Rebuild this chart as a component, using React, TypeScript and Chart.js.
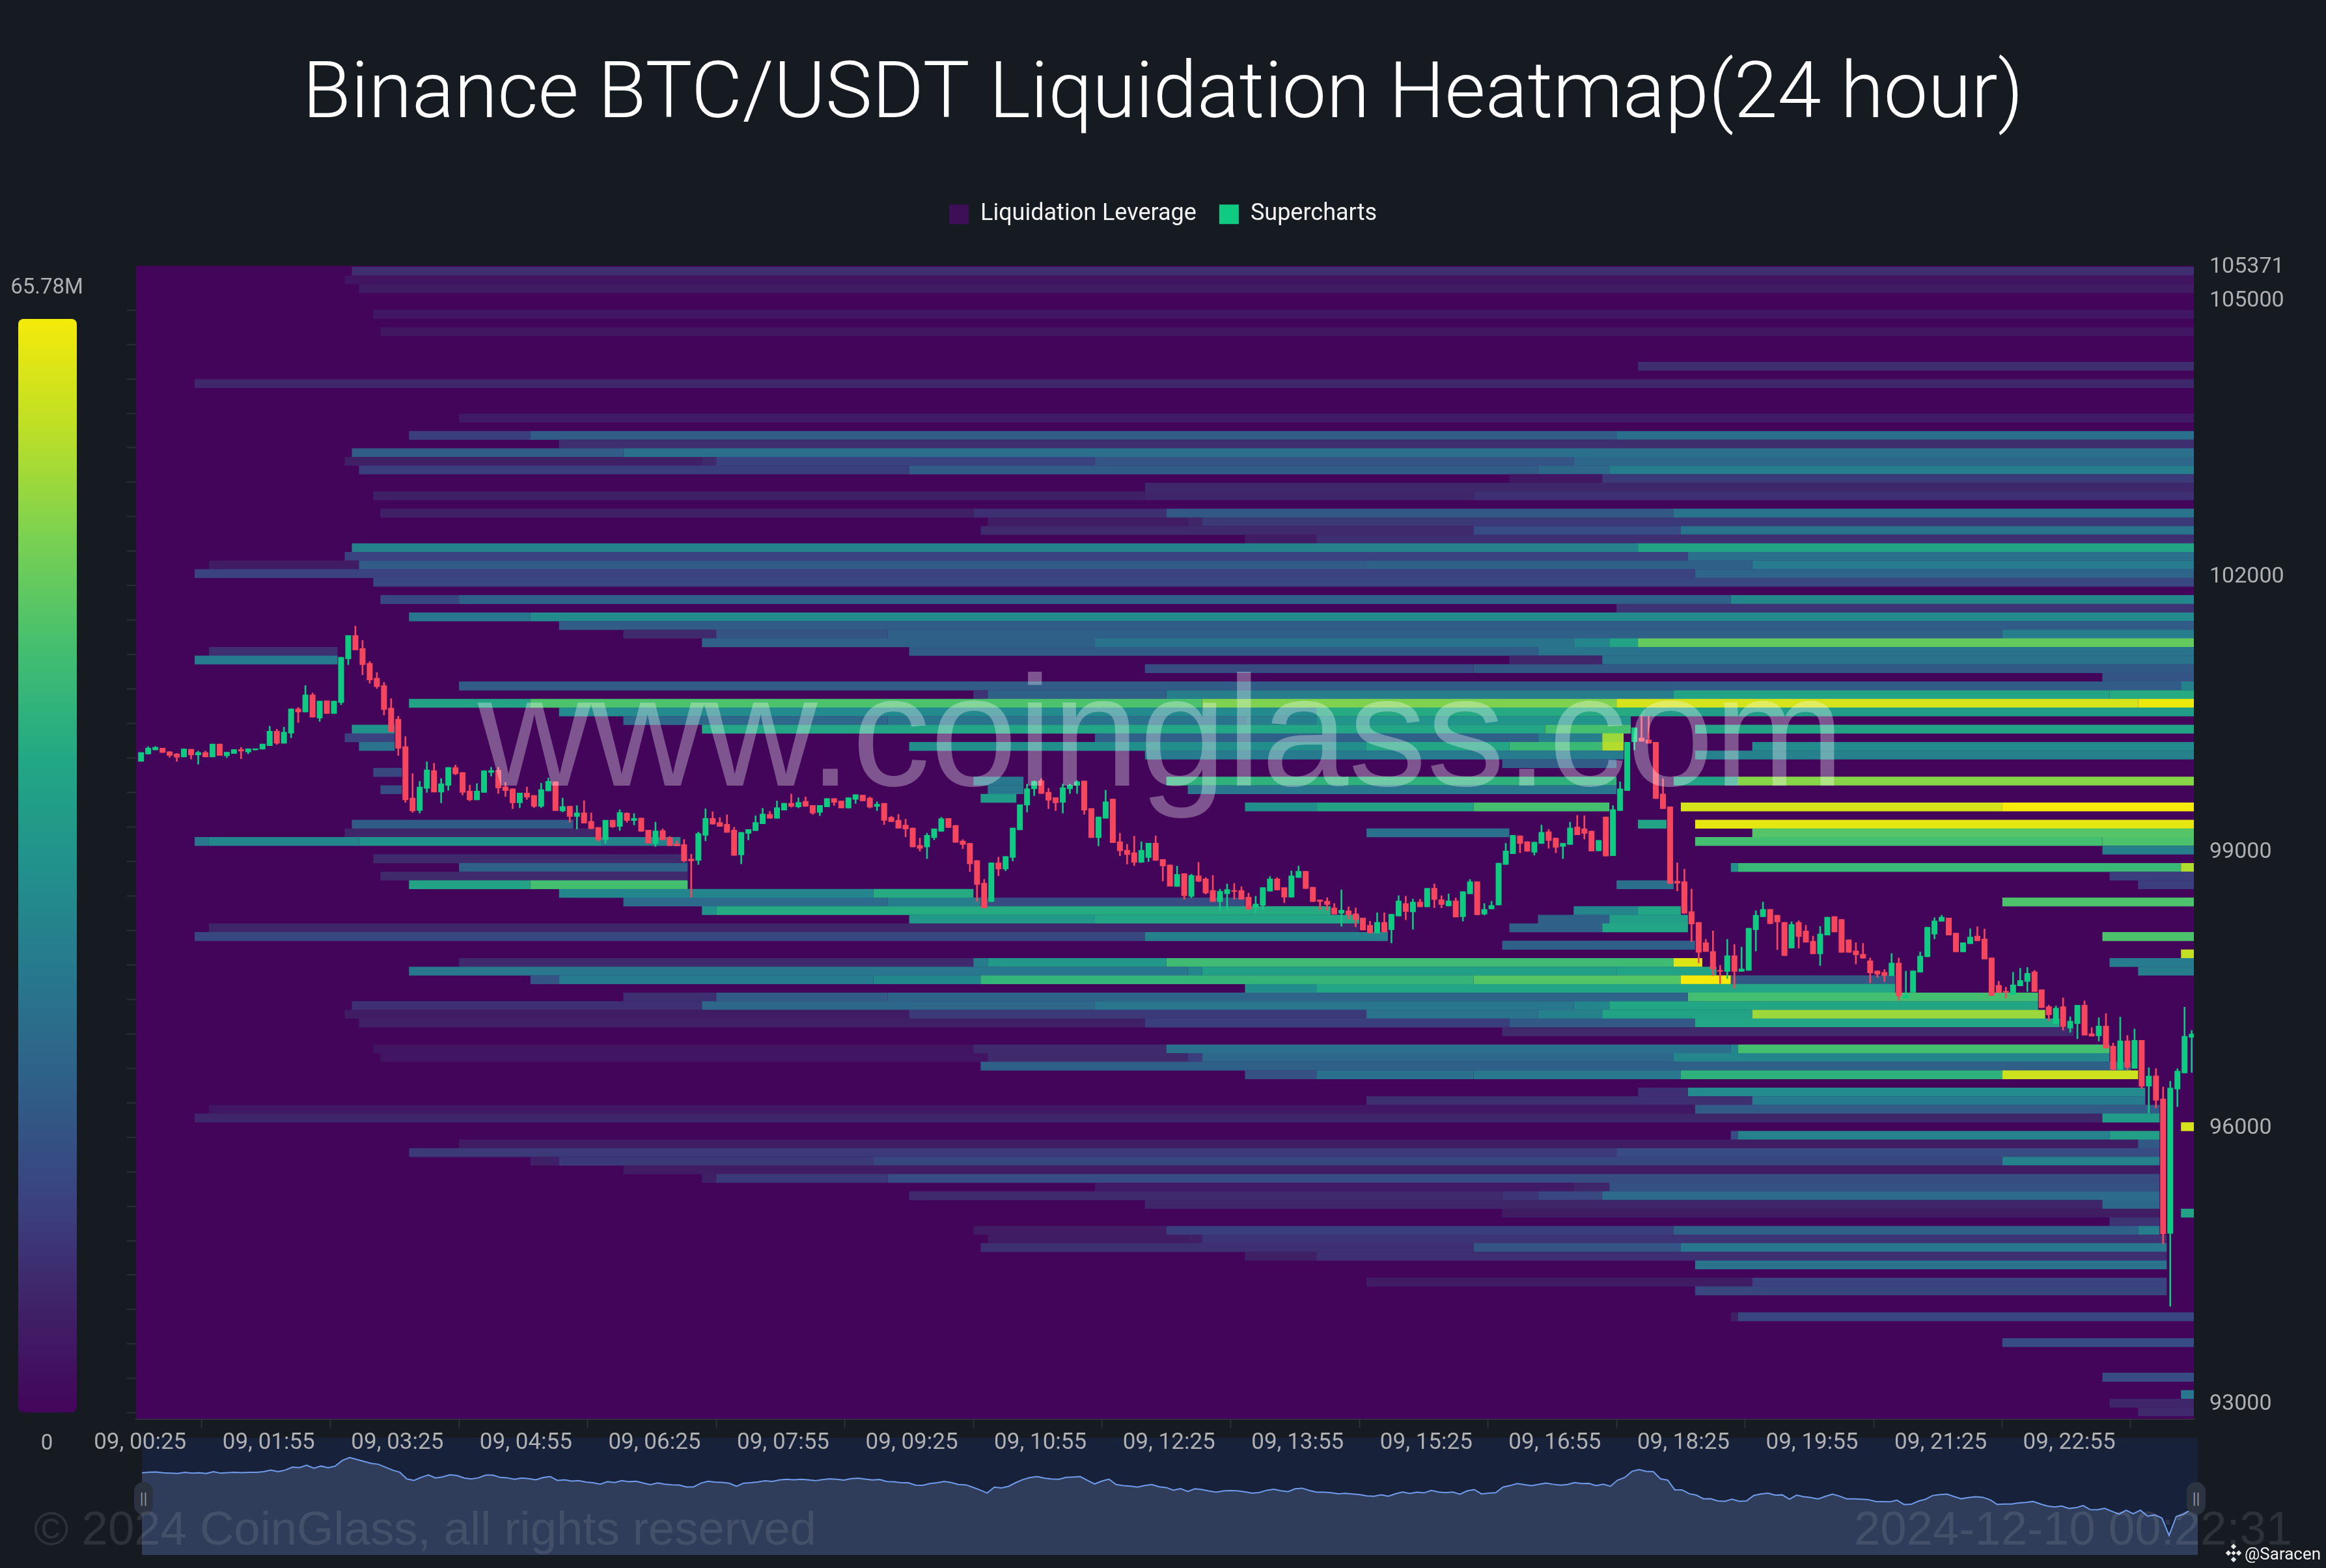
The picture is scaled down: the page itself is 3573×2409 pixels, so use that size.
import React, { useEffect, useRef } from "react";
import { Chart, registerables } from "chart.js";

Chart.register(...registerables);

const titleText = "Binance BTC/USDT Liquidation Heatmap(24 hour)";
const maxLeverageM = 65.78;
const xTickSlots = [0, 18, 36, 54, 72, 90, 108, 126, 144, 162, 180, 198, 216, 234, 252, 270, 287.8];
const xTickLabels = ["09, 00:25", "09, 01:55", "09, 03:25", "09, 04:55", "09, 06:25", "09, 07:55", "09, 09:25", "09, 10:55", "09, 12:25", "09, 13:55", "09, 15:25", "09, 16:55", "09, 18:25", "09, 19:55", "09, 21:25", "09, 22:55", ""];
const yTickValues = [105371, 105000, 102000, 99000, 96000, 93000];
const yMinorTicks = [104890, 104515, 104140, 103765, 103390, 103015, 102640, 102265, 101890, 101515, 101140, 100765, 100390, 100015, 99640, 99265, 98890, 98515, 98140, 97765, 97390, 97015, 96640, 96265, 95890, 95515, 95140, 94765, 94390, 94015, 93640, 93265, 92890];
const colorStops = ["#43055a", "#3f2368", "#3a4480", "#2f5f88", "#28788e", "#21918c", "#22a884", "#44bf70", "#7ad151", "#bddf26", "#f5ea09"];

const priceLevels = [
  105311, 105217, 105123, 105029, 104935, 104841, 104747, 104653, 104559, 104465,
  104371, 104277, 104183, 104089, 103995, 103901, 103807, 103713, 103619, 103525,
  103431, 103337, 103243, 103149, 103055, 102961, 102867, 102773, 102679, 102585,
  102491, 102397, 102303, 102209, 102115, 102021, 101927, 101833, 101739, 101645,
  101551, 101457, 101363, 101269, 101175, 101081, 100987, 100893, 100799, 100705,
  100611, 100517, 100423, 100329, 100235, 100141, 100047, 99953, 99859, 99765,
  99671, 99577, 99483, 99389, 99295, 99201, 99107, 99013, 98919, 98825,
  98731, 98637, 98543, 98449, 98355, 98261, 98167, 98073, 97979, 97885,
  97791, 97697, 97603, 97509, 97415, 97321, 97227, 97133, 97039, 96945,
  96851, 96757, 96663, 96569, 96475, 96381, 96287, 96193, 96099, 96005,
  95911, 95817, 95723, 95629, 95535, 95441, 95347, 95253, 95159, 95065,
  94971, 94877, 94783, 94689, 94595, 94501, 94407, 94313, 94219, 94125,
  94031, 93937, 93843, 93749, 93655, 93561, 93467, 93373, 93279, 93185,
  93091, 92997, 92903,
];

// [price level index, first 5-minute slot, last slot, leverage in millions]
const bands: number[][] = [
  [0,30,288,8.5],[1,29,288,3.5],[2,31,288,5],[5,33,288,4],[7,34,288,4],[11,210,288,8.5],[13,8,288,7.5],[17,45,288,4.5],
  [19,38,55,12],[19,55,207,19],[19,207,288,24],[20,59,288,8.5],[21,30,68,19],[21,68,288,24],
  [22,29,79,6],[22,79,81,8],[22,81,134,13],[22,134,201,17],[22,201,288,22],
  [23,31,108,12],[23,108,196,19],[23,196,206,22],[23,206,288,28],[24,192,205,4],[24,205,288,11],[25,141,288,7.5],
  [26,33,141,6],[26,141,187,7],[26,187,288,9],[28,34,117,6],[28,117,144,9],[28,144,215,18],[28,215,288,25],
  [29,119,147,5],[29,147,149,7],[29,149,288,11],[30,118,187,8],[30,187,216,15],[30,216,288,25],[31,155,165,5],[31,165,288,9],
  [32,30,210,29],[32,210,288,38],[33,29,217,13],[33,217,288,24],[34,10,31,5],[34,31,172,19],[34,172,226,20],[34,226,288,27],
  [35,8,218,13],[35,218,288,21],[36,33,288,14],[38,34,45,14],[38,45,223,20],[38,223,288,30],[39,207,288,10],
  [40,38,55,26],[40,55,288,31],[41,59,288,19],[42,68,81,8],[42,81,105,17],[42,105,261,20],[42,261,288,28],
  [43,79,134,20],[43,134,201,25],[43,201,206,30],[43,206,210,38],[43,210,288,50],
  [44,10,28,9],[44,108,196,19],[44,196,288,25],[45,8,28,27],[45,192,205,7],[45,205,288,25],
  [46,141,187,15],[46,187,288,18],[47,275,288,17],[48,45,286,19],[48,286,288,29],
  [49,117,119,10],[49,119,144,20],[49,144,215,28],[49,215,276,38],[49,276,288,40],
  [50,38,55,38],[50,55,149,47],[50,149,207,53],[50,207,280,62],[50,280,288,65],
  [51,59,165,31],[51,165,211,40],[51,211,288,36],[52,68,105,22],[52,105,155,25],[52,155,165,28],[52,165,209,34],
  [53,30,36,33],[53,79,197,39],[53,197,209,46],[53,218,288,38],[54,29,36,13],[54,134,196,20],[54,196,205,28],[54,205,208,56],
  [55,31,36,25],[55,108,172,32],[55,172,192,39],[55,192,205,44],[55,205,208,58],[55,226,288,31],
  [56,141,208,27],[56,218,288,29],[57,191,207,19],[58,33,37,14],
  [59,117,124,26],[59,144,207,42],[59,215,224,38],[59,224,288,54],[60,34,37,15],[60,119,124,26],[60,147,207,26],[61,118,123,36],
  [62,155,165,32],[62,165,187,38],[62,187,206,46],[62,216,261,62],[62,261,288,65.78],
  [64,30,61,19],[64,210,214,38],[64,218,288,64],[65,29,64,7],[65,172,192,24],[65,226,288,48],
  [66,8,10,26],[66,10,31,30],[66,31,65,33],[66,65,76,29],[66,218,275,46],[66,275,288,47],[67,275,288,28],
  [68,33,77,8],[69,45,77,20],[69,223,224,33],[69,224,286,44],[69,286,288,58],[70,34,77,8],[70,276,288,12],
  [71,38,55,38],[71,55,77,46],[71,207,215,24],[71,280,288,12],[72,59,103,30],[72,103,117,40],
  [73,68,105,23],[73,105,118,28],[73,118,155,15],[73,261,288,47],[74,79,81,33],[74,81,167,40],[74,201,210,30],[74,210,216,39],
  [75,108,134,35],[75,134,171,39],[75,196,206,20],[75,206,217,37],[76,10,171,7],[76,192,205,20],[76,205,217,39],
  [77,8,141,14],[77,141,175,29],[77,275,288,47],[78,191,218,20],[79,286,288,60],
  [80,45,117,8],[80,117,119,28],[80,119,144,35],[80,144,215,45],[80,215,219,63],[80,276,288,27],
  [81,38,147,26],[81,147,149,30],[81,149,207,37],[81,207,221,38],[81,280,288,28],
  [82,55,59,17],[82,59,103,27],[82,103,118,30],[82,118,187,43],[82,187,216,48],[82,216,223,65.78],[82,223,246,18],
  [83,155,165,32],[83,165,246,39],[84,68,81,9],[84,81,105,19],[84,105,217,21],[84,217,266,46],
  [85,30,79,9],[85,79,134,22],[85,134,201,26],[85,201,206,30],[85,206,266,39],
  [86,29,108,5],[86,108,172,11],[86,172,196,25],[86,196,205,29],[86,205,226,38],[86,226,267,56],
  [87,31,141,6],[87,141,192,12],[87,192,218,18],[87,218,269,39],[88,191,271,8],
  [90,33,117,3.5],[90,117,144,8],[90,144,223,24],[90,223,224,30],[90,224,276,46],
  [91,34,119,3.5],[91,119,147,8],[91,147,149,12],[91,149,215,22],[91,215,276,30],[92,118,279,20],
  [93,155,165,16],[93,165,187,24],[93,187,216,26],[93,216,261,42],[93,261,280,61],
  [95,210,217,9],[95,217,281,31],[96,172,226,9],[96,226,281,27],[97,10,218,4],[97,218,283,19],[98,8,275,7],[98,275,283,36],[99,286,288,62],
  [100,223,224,15],[100,224,276,29],[100,276,283,37],[101,45,280,5],[101,280,283,18],[102,38,207,11],[102,207,283,15],
  [103,55,59,6],[103,59,103,11],[103,103,261,14],[103,261,283,29],[104,68,283,5],[105,79,81,6],[105,81,105,11],[105,105,283,15],
  [106,134,201,4.5],[106,201,206,7],[106,206,283,16],[107,108,191,8],[107,191,196,10],[107,196,205,14],[107,205,283,23],
  [108,141,275,7],[108,275,283,22],[109,191,283,5],[109,286,288,38],[110,276,283,10],
  [111,117,144,5],[111,144,215,12],[111,215,280,20],[111,280,283,28],[112,119,147,5],[112,147,149,6],[112,149,284,10],
  [113,118,187,9],[113,187,216,17],[113,216,284,26],[114,155,165,6],[114,165,284,9],[115,218,284,25],
  [117,172,226,5],[117,226,284,13],[118,218,284,14],[121,223,224,6],[121,224,288,14],[124,261,288,15],[128,275,288,15],
  [130,286,288,26],[131,276,288,7],[132,280,288,8],
];

// [open, high, low, close] for each 5-minute candle
const candles: number[][] = [
  [99977,100078,99977,100078],[100056,100141,100056,100125],[100100,100144,100100,100135],[100125,100125,100072,100072],[100087,100087,100021,100040],
  [100062,100069,99977,100021],[100024,100116,100024,100116],[100113,100113,100002,100046],[100046,100094,99945,100078],[100078,100094,100024,100024],
  [100024,100170,100024,100170],[100170,100170,100040,100040],[100037,100081,100018,100081],[100062,100110,100062,100110],[100110,100132,100005,100088],
  [100078,100119,100059,100119],[100100,100119,100100,100119],[100110,100170,100110,100170],[100147,100362,100147,100309],[100309,100331,100160,100173],
  [100173,100353,100173,100299],[100283,100552,100233,100552],[100552,100568,100400,100514],[100514,100805,100514,100704],[100704,100726,100457,100457],
  [100448,100637,100410,100637],[100640,100640,100498,100498],[100498,100637,100498,100637],[100615,101114,100593,101114],[101092,101351,101029,101351],
  [101351,101453,101187,101187],[101209,101298,100919,101029],[101048,101067,100827,100862],[100887,100947,100770,100789],[100805,100840,100482,100539],
  [100561,100663,100299,100299],[100441,100473,100040,100119],[100141,100252,99531,99557],[99582,99847,99421,99437],[99443,99765,99414,99702],
  [99683,99977,99639,99888],[99882,99961,99642,99642],[99642,99794,99525,99737],[99715,99914,99661,99914],[99914,99942,99832,99841],
  [99860,99860,99610,99639],[99658,99724,99547,99557],[99557,99740,99557,99658],[99639,99879,99639,99879],[99857,99917,99816,99882],
  [99885,99917,99626,99686],[99705,99753,99595,99658],[99683,99683,99462,99525],[99525,99636,99474,99636],[99636,99702,99563,99588],
  [99610,99610,99474,99487],[99487,99743,99474,99674],[99655,99800,99655,99765],[99759,99759,99440,99440],[99437,99582,99427,99490],
  [99493,99493,99313,99376],[99376,99500,99241,99421],[99421,99553,99304,99304],[99329,99421,99244,99244],[99263,99263,99108,99124],
  [99124,99342,99083,99342],[99342,99342,99256,99263],[99269,99455,99225,99424],[99418,99424,99313,99332],[99332,99414,99285,99361],
  [99364,99364,99215,99215],[99234,99234,99086,99086],[99083,99320,99051,99225],[99228,99247,99124,99124],[99152,99165,99060,99060],
  [99083,99114,99057,99057],[99076,99130,98883,98893],[98918,98972,98498,98893],[98899,99212,98855,99196],[99171,99465,99111,99361],
  [99361,99433,99294,99294],[99316,99370,99269,99269],[99297,99399,99203,99203],[99234,99263,98953,98953],[98959,99209,98861,99209],
  [99193,99241,99121,99241],[99222,99389,99222,99316],[99297,99471,99297,99408],[99405,99436,99358,99358],[99358,99550,99358,99478],
  [99446,99525,99446,99525],[99525,99626,99478,99487],[99481,99585,99471,99534],[99547,99595,99487,99487],[99503,99503,99399,99414],
  [99421,99503,99386,99503],[99481,99576,99481,99576],[99576,99576,99497,99531],[99550,99550,99468,99468],[99468,99585,99468,99585],
  [99563,99620,99519,99620],[99613,99613,99547,99547],[99582,99595,99468,99478],[99487,99541,99440,99515],[99525,99525,99288,99335],
  [99373,99383,99320,99320],[99342,99405,99250,99250],[99288,99351,99155,99241],[99256,99256,99045,99045],[99067,99146,99000,99029],
  [99045,99200,98918,99177],[99146,99247,99124,99247],[99215,99373,99215,99357],[99361,99361,99256,99256],[99285,99285,99095,99095],
  [99114,99130,99026,99073],[99089,99089,98776,98861],[98902,98902,98451,98637],[98656,98697,98381,98381],[98451,98877,98451,98877],
  [98877,98940,98732,98805],[98805,98947,98786,98947],[98931,99256,98893,99256],[99231,99509,99231,99509],[99500,99734,99424,99683],
  [99677,99771,99604,99762],[99771,99794,99626,99626],[99645,99689,99462,99553],[99588,99588,99440,99525],[99531,99734,99414,99696],
  [99677,99734,99626,99721],[99715,99771,99626,99759],[99768,99768,99399,99446],[99468,99468,99146,99146],[99146,99377,99057,99377],
  [99357,99667,99357,99541],[99572,99572,99092,99092],[99108,99200,98950,99004],[99016,99079,98858,98962],[98988,99168,98842,98877],
  [98877,99108,98877,99013],[98931,99092,98887,99092],[99092,99171,98899,98899],[98915,98915,98675,98839],[98855,98855,98618,98618],
  [98615,98842,98615,98751],[98760,98760,98476,98514],[98507,98751,98492,98741],[98735,98883,98665,98672],[98703,98716,98533,98545],
  [98577,98741,98451,98451],[98451,98590,98356,98568],[98536,98647,98362,98587],[98577,98653,98476,98561],[98577,98618,98476,98476],
  [98504,98549,98362,98372],[98387,98514,98331,98429],[98410,98609,98362,98609],[98564,98729,98564,98703],[98703,98716,98577,98577],
  [98609,98609,98438,98498],[98498,98789,98498,98735],[98713,98842,98713,98786],[98786,98786,98593,98593],[98612,98612,98451,98451],
  [98473,98473,98362,98451],[98460,98498,98356,98419],[98387,98435,98315,98315],[98324,98583,98182,98362],[98356,98400,98261,98308],
  [98324,98387,98176,98255],[98277,98277,98141,98141],[98198,98242,98109,98109],[98109,98334,98109,98229],[98229,98334,98119,98119],
  [98144,98318,98002,98318],[98293,98520,98293,98463],[98435,98514,98252,98343],[98340,98482,98150,98451],[98451,98482,98394,98394],
  [98394,98599,98394,98599],[98602,98647,98384,98473],[98476,98520,98384,98419],[98403,98539,98403,98463],[98463,98495,98283,98283],
  [98286,98564,98239,98564],[98536,98697,98536,98672],[98672,98672,98308,98308],[98315,98435,98305,98372],[98372,98460,98372,98413],
  [98413,98874,98413,98874],[98855,99089,98855,99007],[98972,99177,98972,99177],[99171,99171,98981,99083],[99108,99108,98997,98997],
  [98988,99102,98956,99102],[99083,99288,99083,99209],[99215,99241,99029,99114],[99146,99146,98981,99041],[99051,99089,98918,99089],
  [99073,99320,99073,99256],[99266,99393,99177,99177],[99247,99389,99130,99193],[99222,99222,99000,99000],[99004,99121,99004,99121],
  [99376,99376,98947,98947],[98950,99500,98950,99456],[99440,99759,99440,99683],[99658,100189,99658,100189],[100189,100347,100100,100347],
  [100236,100473,100195,100195],[100214,100473,100173,100173],[100189,100189,99572,99572],[99626,99794,99462,99462],[99487,99487,98647,98647],
  [98678,98877,98567,98650],[98672,98808,98324,98324],[98346,98593,98015,98207],[98229,98229,97784,97898],[98008,98046,97907,97907],
  [97913,98135,97645,97717],[97708,97762,97556,97692],[97692,98046,97613,97866],[97866,97989,97509,97692],[97692,97961,97692,97724],
  [97702,98166,97702,98166],[98144,98356,97913,98308],[98286,98451,98286,98372],[98372,98372,98210,98210],[98308,98308,97929,98229],
  [98229,98229,97863,97863],[97945,98236,97945,98207],[98229,98248,97945,98071],[98135,98198,98008,98008],[98024,98081,97882,97882],
  [97882,98185,97755,98103],[98087,98286,98087,98286],[98293,98293,98119,98119],[98261,98261,97898,97898],[98040,98040,97898,97898],
  [97920,98008,97771,97872],[97882,98002,97834,97834],[97812,97841,97566,97676],[97702,97702,97629,97661],[97686,97717,97582,97645],
  [97645,97891,97645,97787],[97787,97841,97376,97424],[97401,97699,97401,97440],[97465,97702,97465,97702],[97683,97907,97683,97863],
  [97850,98176,97850,98176],[98097,98280,98046,98245],[98236,98308,98236,98286],[98277,98277,98087,98087],[98112,98112,97904,97904],
  [97904,98008,97904,98008],[97992,98160,97992,98071],[98081,98182,98024,98024],[98049,98157,97825,97825],[97844,97844,97430,97430],
  [97544,97588,97461,97461],[97481,97525,97401,97465],[97440,97686,97440,97550],[97534,97730,97534,97597],[97582,97740,97471,97676],
  [97692,97708,97471,97471],[97496,97496,97297,97297],[97313,97329,97155,97218],[97123,97319,97123,97297],[97313,97408,97051,97092],
  [97076,97202,97029,97155],[97123,97329,96959,97329],[97329,97376,96997,96997],[97019,97085,96987,96987],[96991,97193,96934,97101],
  [97101,97237,96858,96858],[96883,96918,96624,96624],[96624,97199,96624,96940],[96940,97000,96624,96649],[96637,97070,96637,96946],
  [96946,96946,96416,96441],[96444,96649,96150,96558],[96561,96640,96207,96289],[96308,96438,94728,94836],[94842,96501,94049,96428],
  [96412,96637,96220,96611],[96586,97307,96586,96991],[96975,97054,96592,97016],
];

const GREEN = "#0ecb81";
const RED = "#f6465d";
const PAGE_BG = "#161b22";
const TICK_TEXT = "#aeb0b2";

function hexToRgb(h: string) {
  return [parseInt(h.slice(1, 3), 16), parseInt(h.slice(3, 5), 16), parseInt(h.slice(5, 7), 16)];
}
function leverageColor(v: number) {
  const t = Math.min(1, Math.max(0, v / maxLeverageM)) * (colorStops.length - 1);
  const i = Math.min(colorStops.length - 2, Math.floor(t));
  const a = hexToRgb(colorStops[i]);
  const b = hexToRgb(colorStops[i + 1]);
  const f = t - i;
  const c = a.map((x, k) => Math.round(x + (b[k] - x) * f));
  return `rgb(${c[0]},${c[1]},${c[2]})`;
}

const Y_MIN = 92825;
const Y_MAX = 105371;
const X_MIN = -0.2;
const X_MAX = 287.8;
const plotBackground = {
  id: "plotBackground",
  beforeDatasetsDraw(chart: any) {
    const { ctx, chartArea: a } = chart;
    ctx.save();
    ctx.fillStyle = colorStops[0];
    ctx.fillRect(a.left, a.top, a.right - a.left, a.bottom - a.top);
    ctx.restore();
  },
};
const hiddenAxis = (pos: string, min: number, max: number) => ({ type: "linear", position: pos, display: false, min, max, offset: false });

function MainChart() {
  const ref = useRef<HTMLCanvasElement | null>(null);
  useEffect(() => {
    const chart = new Chart(ref.current as any, {
      type: "bar",
      plugins: [plotBackground],
      data: {
        datasets: [
          {
            label: "Supercharts",
            order: 1,
            xAxisID: "xCandle",
            yAxisID: "y",
            grouped: false,
            categoryPercentage: 1,
            barPercentage: 0.82,
            borderWidth: 0,
            backgroundColor: candles.map((c) => (c[3] >= c[0] ? GREEN : RED)),
            data: candles.map((c, i) => ({ x: i + 0.5, y: [c[0], c[3]] })),
          },
          {
            label: "Wicks",
            order: 2,
            xAxisID: "xCandle",
            yAxisID: "y",
            grouped: false,
            categoryPercentage: 1,
            barPercentage: 0.24,
            borderWidth: 0,
            backgroundColor: candles.map((c) => (c[3] >= c[0] ? GREEN : RED)),
            data: candles.map((c, i) => ({ x: i + 0.5, y: [c[2], c[1]] })),
          },
          {
            label: "Liquidation Leverage",
            order: 3,
            indexAxis: "y",
            xAxisID: "xBand",
            yAxisID: "yBand",
            grouped: false,
            categoryPercentage: 1,
            barPercentage: 1.02,
            borderWidth: 0,
            backgroundColor: bands.map((b) => leverageColor(b[3])),
            data: bands.map((b) => ({ x: [b[1], b[2]], y: priceLevels[b[0]] })),
          },
        ],
      },
      options: {
        responsive: false,
        animation: false,
        devicePixelRatio: 1,
        layout: { padding: 0 },
        plugins: {
          tooltip: { enabled: false },
          title: {
            display: true,
            text: titleText,
            color: "#ffffff",
            weight: 3000,
            font: { family: "Roboto", size: 121, weight: "300", lineHeight: 1.2 },
            padding: { top: 77, bottom: 54 },
          },
          legend: {
            display: true,
            position: "top",
            weight: 2000,
            labels: {
              boxWidth: 30,
              boxHeight: 30,
              padding: 35,
              color: "#f4f4f4",
              font: { family: "Roboto", size: 36 },
              generateLabels: () => [
                { text: "Liquidation Leverage", fillStyle: "#3c0f57", strokeStyle: "#3c0f57", lineWidth: 0, hidden: false, fontColor: "#f4f4f4" },
                { text: "Supercharts", fillStyle: GREEN, strokeStyle: GREEN, lineWidth: 0, hidden: false, fontColor: "#f4f4f4" },
              ],
            },
          },
          subtitle: {
            display: true,
            text: " ",
            weight: 500,
            font: { size: 51, lineHeight: 1 },
            padding: 0,
          },
        },
        scales: {
          xBand: { type: "linear", position: "top", display: false, min: X_MIN, max: X_MAX, offset: false },
          yBand: hiddenAxis("left", Y_MIN, Y_MAX),
          xCandle: {
            type: "linear",
            position: "bottom",
            min: X_MIN,
            max: X_MAX,
            offset: false,
            grid: { drawOnChartArea: false, drawTicks: true, tickLength: 14, tickColor: "#2b3037", tickWidth: 2 },
            border: { display: true, color: "#3b4047", width: 2, dash: [7, 6] },
            ticks: {
              autoSkip: false,
              maxRotation: 0,
              padding: 2,
              labelOffset: 4,
              color: TICK_TEXT,
              font: { family: "Roboto", size: 35 },
              callback: (_v: any, i: number) => xTickLabels[i],
            },
            afterBuildTicks: (s: any) => { s.ticks = xTickSlots.map((value) => ({ value })); },
            afterFit: (s: any) => { s.height = 229; },
          },
          y: {
            type: "linear",
            position: "right",
            min: Y_MIN,
            max: Y_MAX,
            offset: false,
            grid: { display: false, drawTicks: false },
            border: { display: false },
            ticks: {
              autoSkip: false,
              padding: 24,
              labelOffset: 2,
              color: TICK_TEXT,
              font: { family: "Roboto", size: 34 },
              callback: (v: any) => String(v),
            },
            afterBuildTicks: (s: any) => { s.ticks = yTickValues.map((value) => ({ value })); },
            afterFit: (s: any) => { s.width = 203; },
          },
          yMinor: {
            type: "linear",
            position: "left",
            min: Y_MIN,
            max: Y_MAX,
            grid: { drawOnChartArea: false, drawTicks: true, tickLength: 14, tickColor: "#2b3037", tickWidth: 2 },
            border: { display: false },
            ticks: { autoSkip: false, display: false },
            afterBuildTicks: (s: any) => { s.ticks = yMinorTicks.map((value) => ({ value })); },
            afterFit: (s: any) => { s.width = 209; },
          },
        },
      } as any,
    } as any);
    return () => chart.destroy();
  }, []);
  return <canvas ref={ref} width={3573} height={2409} style={{ position: "absolute", left: 0, top: 0, width: 3573, height: 2409 }} />;
}

function NavigatorChart() {
  const ref = useRef<HTMLCanvasElement | null>(null);
  useEffect(() => {
    const chart = new Chart(ref.current as any, {
      type: "line",
      data: {
        labels: candles.map((_c, i) => i),
        datasets: [
          {
            label: "Price",
            data: candles.map((c) => c[3]),
            borderColor: "#6f9bea",
            borderWidth: 2,
            backgroundColor: "#2f3d5a",
            fill: "start",
            pointRadius: 0,
            tension: 0,
          },
        ],
      },
      options: {
        responsive: false,
        animation: false,
        devicePixelRatio: 1,
        layout: { padding: 0 },
        plugins: { legend: { display: false }, tooltip: { enabled: false }, title: { display: false } },
        scales: {
          x: { display: false, offset: false },
          y: { display: false, min: 93200, max: 103000 },
        },
      } as any,
    } as any);
    return () => chart.destroy();
  }, []);
  return <canvas ref={ref} width={3158} height={180} style={{ position: "absolute", left: 218, top: 2209, width: 3158, height: 180 }} />;
}

const textBase: React.CSSProperties = { position: "absolute", whiteSpace: "nowrap", pointerEvents: "none" };
const handleStyle = (left: number): React.CSSProperties => ({
  position: "absolute",
  left,
  top: 2277,
  width: 29,
  height: 50,
  borderRadius: 14,
  background: "#2c3340",
  color: "#8d93a0",
  fontFamily: "Roboto",
  fontSize: 24,
  lineHeight: "50px",
  textAlign: "center",
});

export default function App() {
  return (
    <div style={{ position: "absolute", left: 0, top: 0, width: 3573, height: 2409, overflow: "hidden", background: PAGE_BG }}>
      <div style={{ position: "absolute", left: 218, top: 2209, width: 3158, height: 180, background: "#17213a" }} />
      <NavigatorChart />
      <MainChart />
      <div
        style={{
          position: "absolute",
          left: 28,
          top: 490,
          width: 90,
          height: 1680,
          borderRadius: 8,
          background: `linear-gradient(to top, ${colorStops.join(", ")})`,
        }}
      />
      <div style={{ ...textBase, left: 0, width: 144, top: 420, textAlign: "center", font: "33px Roboto", lineHeight: "40px", color: TICK_TEXT }}>65.78M</div>
      <div style={{ ...textBase, left: 0, width: 144, top: 2196, textAlign: "center", font: "33px Roboto", lineHeight: "40px", color: TICK_TEXT }}>0</div>
      <div style={{ ...textBase, left: 734, top: 987, font: "240.6px 'Liberation Sans'", lineHeight: "274px", color: "rgba(255,255,255,0.32)" }}>www.coinglass.com</div>
      <div style={handleStyle(206)}>||</div>
      <div style={handleStyle(3359)}>||</div>
      <div style={{ ...textBase, left: 52, top: 2308, font: "72.5px 'Liberation Sans'", lineHeight: "80px", color: "rgba(255,255,255,0.1)" }}>© 2024 CoinGlass, all rights reserved</div>
      <div style={{ ...textBase, left: 2848, top: 2308, font: "72.5px 'Liberation Sans'", lineHeight: "80px", color: "rgba(255,255,255,0.1)" }}>2024-12-10 00:22:31</div>
      <svg style={{ position: "absolute", left: 3417, top: 2372 }} width="28" height="28" viewBox="0 0 28 28">
        <g fill="#e8e8e8">
          <rect x="11" y="1" width="6" height="6" transform="rotate(45 14 4)" />
          <rect x="3" y="11" width="6" height="6" transform="rotate(45 6 14)" />
          <rect x="19" y="11" width="6" height="6" transform="rotate(45 22 14)" />
          <rect x="11" y="21" width="6" height="6" transform="rotate(45 14 24)" />
          <rect x="11.5" y="11.5" width="5" height="5" transform="rotate(45 14 14)" />
        </g>
      </svg>
      <div style={{ ...textBase, left: 3448, top: 2371, font: "26px Roboto", lineHeight: "32px", color: "#f0f0f0" }}>@Saracen</div>
    </div>
  );
}
